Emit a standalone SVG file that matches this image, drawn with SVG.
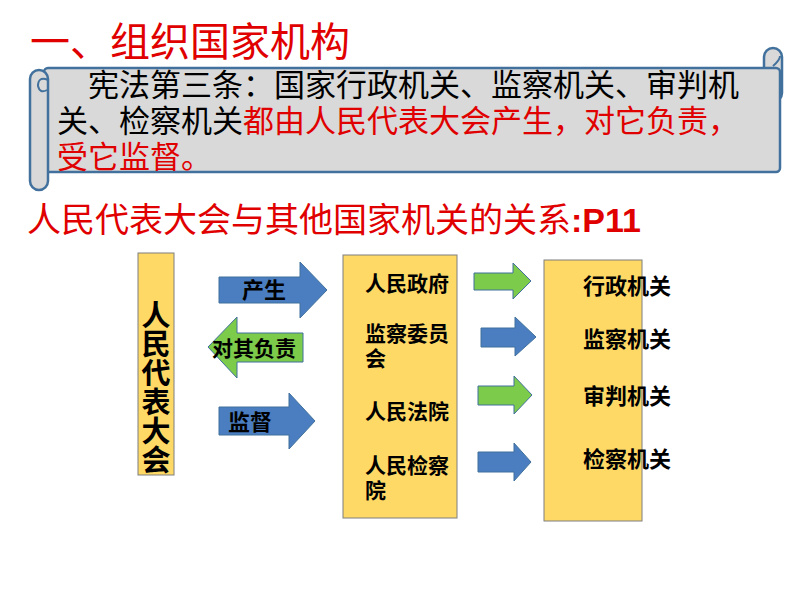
<svg xmlns="http://www.w3.org/2000/svg" width="794" height="596" viewBox="0 0 794 596">
<style>
.cn{font-family:"Liberation Sans","Noto Sans CJK SC",sans-serif}
.b{font-weight:bold;fill:#000}
.box{fill:#FFD966;stroke:#7F7F7F;stroke-width:1}
.blue{fill:#4A7EC1;stroke:#41719C;stroke-width:1}
.green{fill:#7DCB4A;stroke:#41719C;stroke-width:1}
.sc{fill:#D9D9D9;stroke:#41719C;stroke-width:2.5}
</style>
<rect width="794" height="596" fill="#fff"/>
<text x="30" y="56" class="cn" font-size="40" fill="#E00000">一、组织国家机构</text>
<g id="scroll">
<rect class="sc" x="764" y="48" width="18" height="54" rx="9"/>
<rect class="sc" x="44" y="68" width="736" height="104" rx="4"/>
<rect class="sc" x="30" y="70" width="18" height="120" rx="9"/>
<path d="M48,80 Q38,76 38,86 Q40,94 47,90" fill="none" stroke="#41719C" stroke-width="2"/>
<path d="M773,66 Q780,60 780,56" fill="none" stroke="#41719C" stroke-width="2"/>
</g>
<text x="88" y="96" class="cn" font-size="31" fill="#000">宪法第三条：国家行政机关、监察机关、审判机</text>
<text x="57" y="132" class="cn" font-size="31" fill="#000">关、检察机关<tspan fill="#E00000">都由人民代表大会产生，对它负责，</tspan></text>
<text x="57" y="168" class="cn" font-size="31" fill="#E00000">受它监督。</text>
<text x="27" y="232" class="cn" font-size="34" fill="#E00000">人民代表大会与其他国家机关的关系<tspan font-weight="bold">:P11</tspan></text>
<g id="npc">
<rect class="box" x="138" y="253" width="36" height="222"/>
<text class="cn b" font-size="29" text-anchor="middle"><tspan x="156" y="326">人</tspan><tspan x="156" y="355">民</tspan><tspan x="156" y="384">代</tspan><tspan x="156" y="413">表</tspan><tspan x="156" y="442">大</tspan><tspan x="156" y="471">会</tspan></text>
</g>
<g id="organs">
<rect class="box" x="343" y="255" width="114" height="263"/>
<text class="cn b" font-size="21"><tspan x="365" y="291">人民政府</tspan><tspan x="365" y="341">监察委员</tspan><tspan x="365" y="366">会</tspan><tspan x="365" y="419">人民法院</tspan><tspan x="365" y="473">人民检察</tspan><tspan x="365" y="498">院</tspan></text>
</g>
<g id="types">
<rect class="box" x="544" y="260" width="98" height="261"/>
<text class="cn b" font-size="22"><tspan x="583" y="294">行政机关</tspan><tspan x="583" y="347">监察机关</tspan><tspan x="583" y="404">审判机关</tspan><tspan x="583" y="467">检察机关</tspan></text>
</g>
<g id="connectors">
<polygon class="blue" points="219,277 300,277 300,262 327,290 300,318 300,303 219,303"/>
<polygon class="green" points="303,333 237,333 237,317 208,347 237,378 237,362 303,362"/>
<polygon class="blue" points="219,407 289,407 289,393 315,421 289,449 289,435 219,435"/>
<polygon class="green" points="474,273 513,273 513,263 531,281 513,299 513,290 474,290"/>
<polygon class="blue" points="481,328 515,328 515,317 536,337 515,356 515,347 481,347"/>
<polygon class="green" points="478,386 514,386 514,376 532,395 514,414 514,405 478,405"/>
<polygon class="blue" points="478,452 514,452 514,443 531,462 514,481 514,472 478,472"/>
</g>
<text x="242" y="298" class="cn b" font-size="22">产生</text>
<text x="212" y="356" class="cn b" font-size="21">对其负责</text>
<text x="228" y="430" class="cn b" font-size="22">监督</text>
</svg>
